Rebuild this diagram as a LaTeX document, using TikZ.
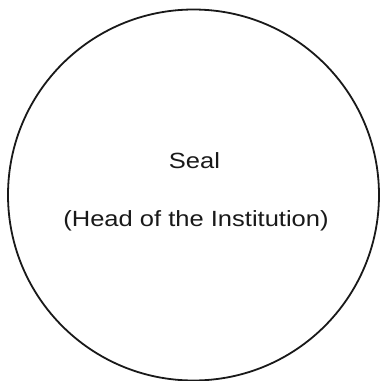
\documentclass[tikz,border=0pt]{standalone}
\usepackage{fontspec}
\setmainfont{Liberation Sans}
\usepackage{graphicx}
\tikzset{
  seal/.style={draw=black!90, line width=1.8pt},
  lbl/.style={anchor=base, inner sep=0pt, font=\fontsize{22}{26}\selectfont, text=black!90}
}
\begin{document}
\begin{tikzpicture}[x=1pt,y=-1pt]
\useasboundingbox (0,0) rectangle (380,381);
\node[seal, circle, minimum size=371pt, inner sep=0pt] (c) at (193.5,195) {};
\node[lbl] (t1) at (194.5,168.3) {\scalebox{1.16}[1]{Seal}};
\node[lbl] (t2) at (196,226.7) {\scalebox{1.16}[1]{(Head of the Institution)}};
\end{tikzpicture}
\end{document}
